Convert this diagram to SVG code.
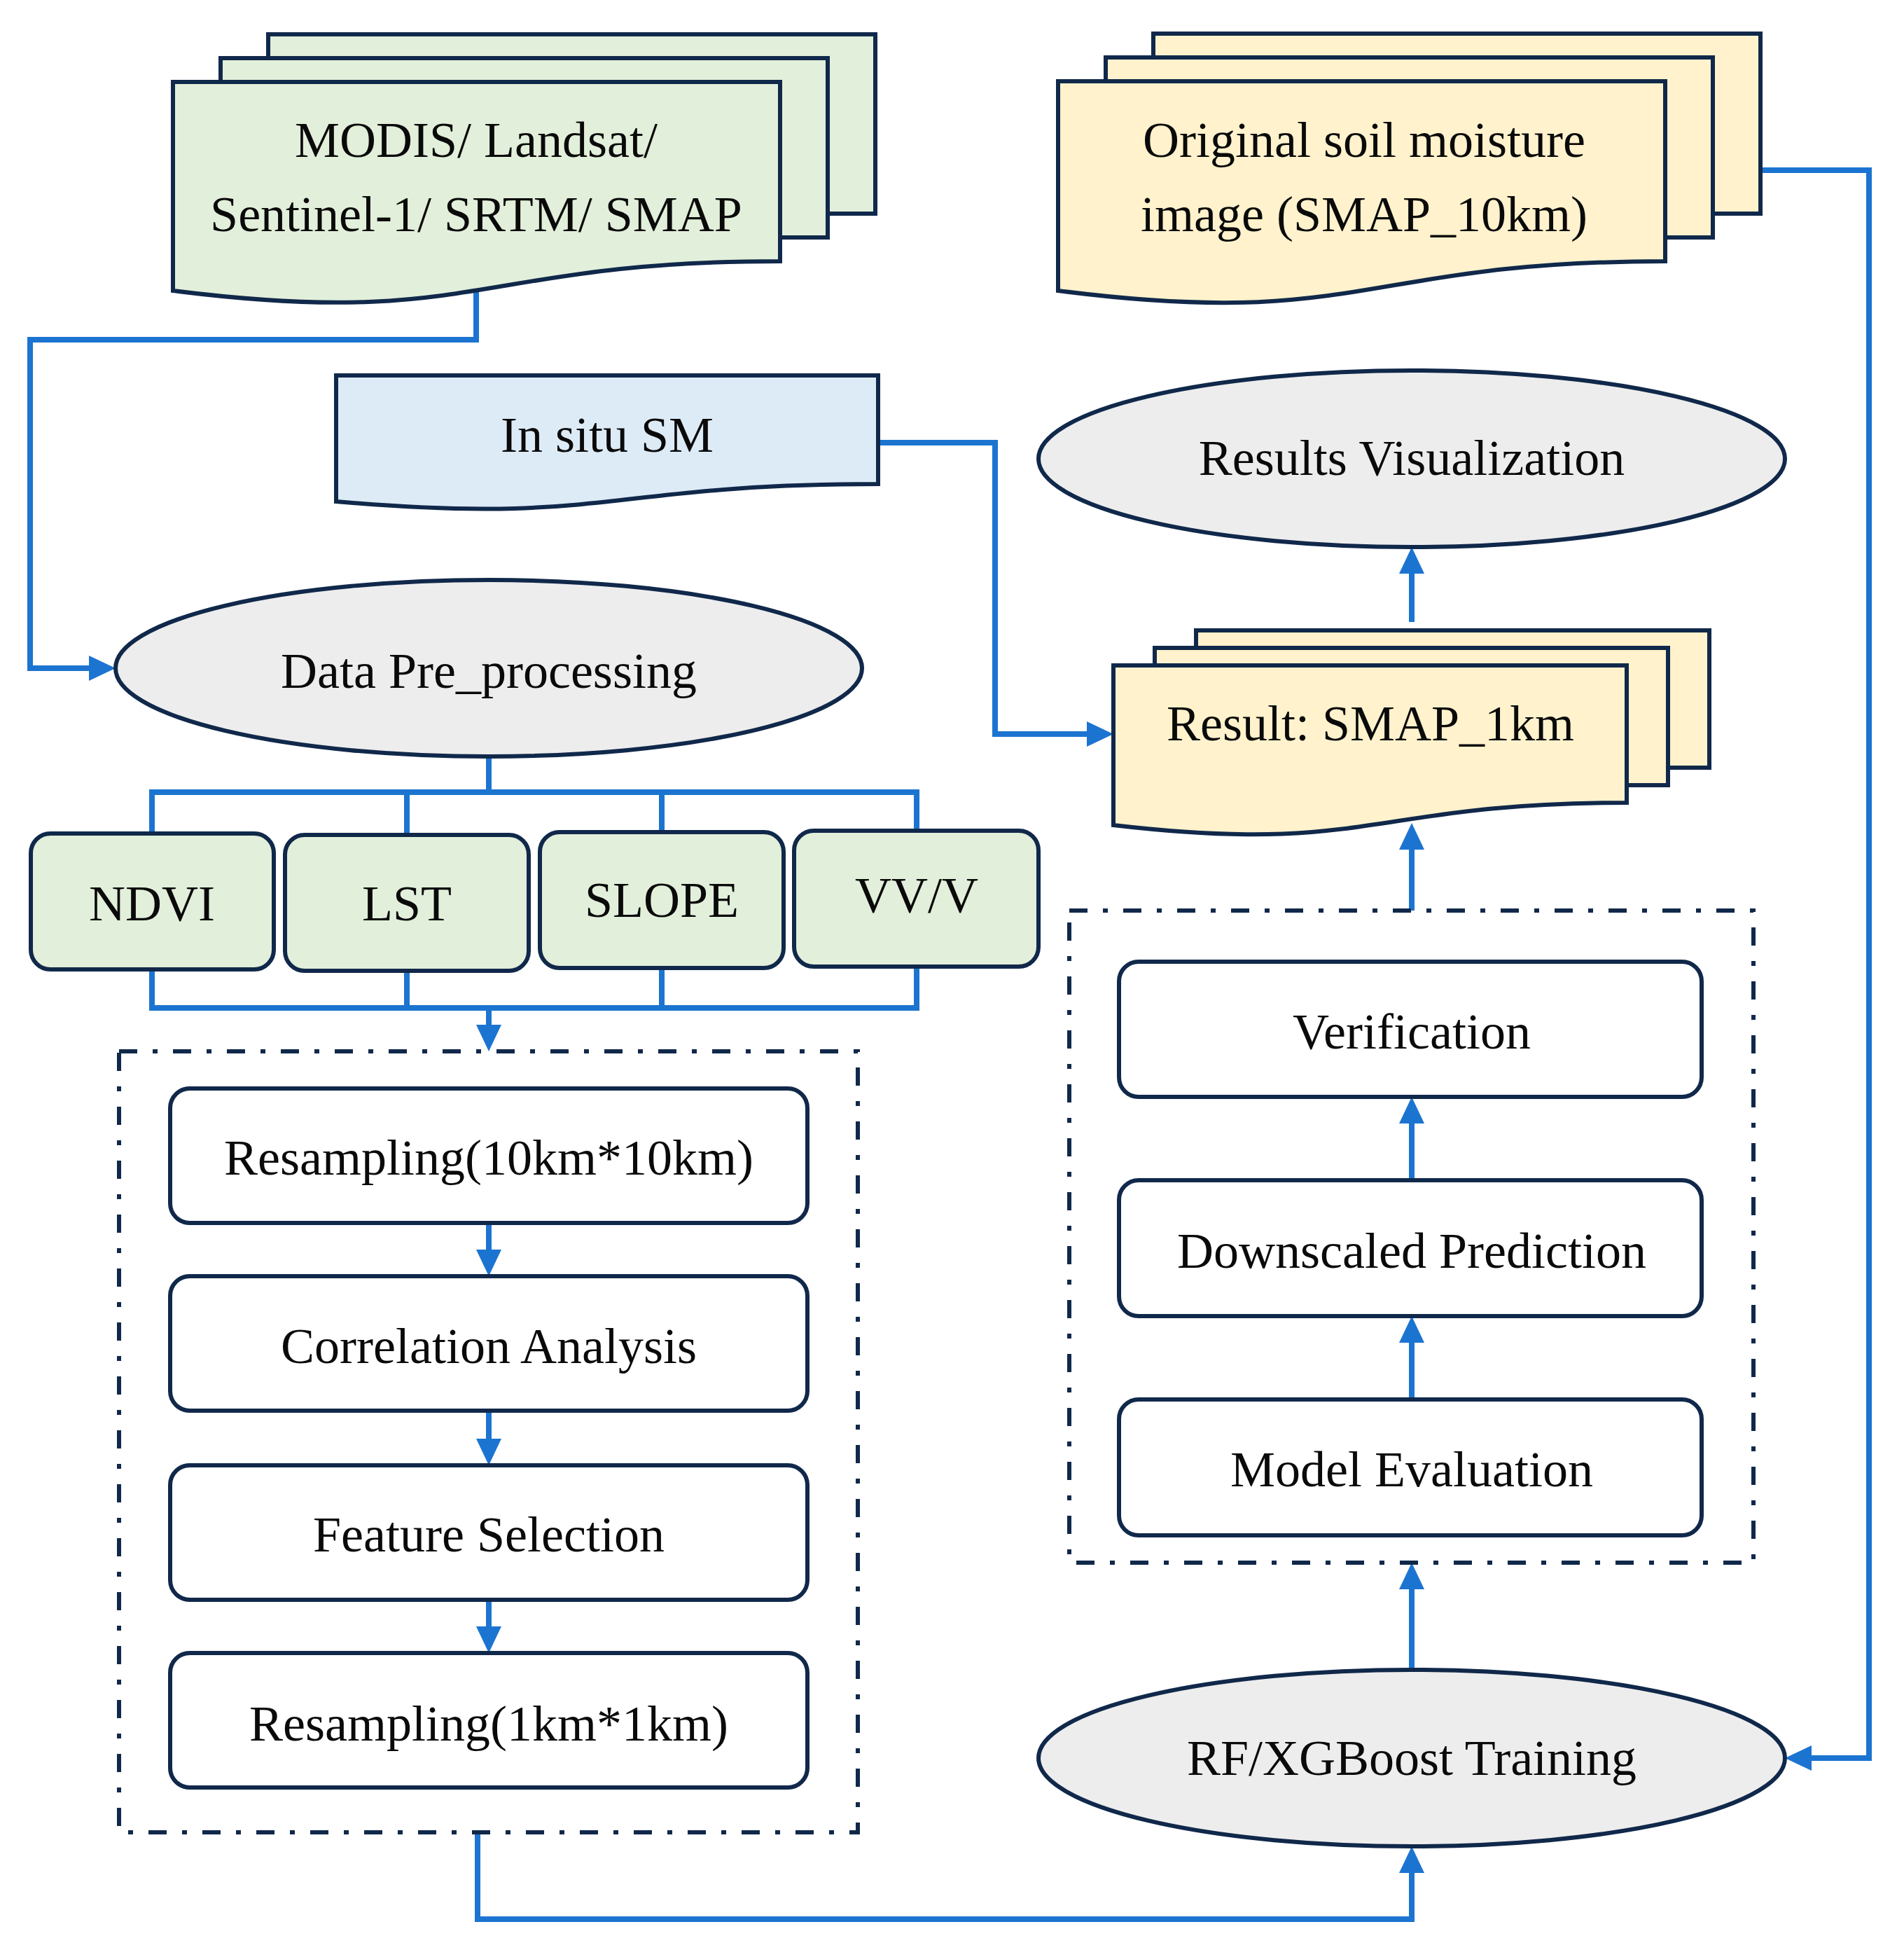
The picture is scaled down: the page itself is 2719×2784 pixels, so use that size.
<svg xmlns="http://www.w3.org/2000/svg" width="2719" height="2784" viewBox="0 0 2719 2784">
<style>
.sh{stroke:#10284A;stroke-width:6;stroke-linejoin:miter}
.g{fill:#E2EFDA}
.y{fill:#FFF2CC}
.b{fill:#DDEBF7}
.e{fill:#EDEDED}
.w{fill:#FFFFFF}
.dash{fill:none;stroke:#10284A;stroke-width:6;stroke-dasharray:26 22 7 22}
.t{font-family:"Liberation Serif","Times New Roman",serif;font-size:72px;fill:#0A0A0A;text-anchor:middle}
.c{fill:none;stroke:#1C74D1;stroke-width:8;stroke-linejoin:miter}
.ca{fill:none;stroke:#1C74D1;stroke-width:8;marker-end:url(#ah)}
</style>
<defs>
<marker id="ah" markerUnits="userSpaceOnUse" markerWidth="40" markerHeight="40" refX="8" refY="18" orient="auto">
<path d="M0,0 L38,18 L0,36 Z" fill="#1C74D1"/>
</marker>
</defs>
<rect width="2719" height="2784" fill="#FFFFFF"/>

<g id="connectors">
<path class="ca" d="M680,415 V485 H43 V954 H135"/>
<path class="ca" d="M1254,632 H1421 V1048 H1560"/>
<path class="c" d="M698,1080 V1131"/>
<path class="c" d="M217,1190 V1131 H1309 V1190"/>
<path class="c" d="M581,1131 V1190"/>
<path class="c" d="M945,1131 V1190"/>
<path class="c" d="M217,1384 V1439 H1309 V1380"/>
<path class="c" d="M581,1386 V1439"/>
<path class="c" d="M945,1382 V1439"/>
<path class="ca" d="M698,1439 V1471"/>
<path class="ca" d="M698,1746 V1792"/>
<path class="ca" d="M698,2014 V2062"/>
<path class="ca" d="M698,2284 V2330"/>
<path class="ca" d="M682,2616 V2740 H2016 V2666"/>
<path class="ca" d="M2016,2384 V2261"/>
<path class="ca" d="M2016,1998 V1909"/>
<path class="ca" d="M2016,1685 V1596"/>
<path class="ca" d="M2016,1300 V1205"/>
<path class="ca" d="M2016,888 V811"/>
<path class="ca" d="M2514,243 H2669 V2510 H2579"/>
</g>

<g id="modis">
<rect class="sh g" x="383" y="49" width="867" height="256"/>
<rect class="sh g" x="315" y="83" width="867" height="256"/>
<path class="sh g" d="M247,117 H1114 V373 C680.5,373 680.5,470 247,415 Z"/>
<text class="t" x="680" y="224">MODIS/ Landsat/</text>
<text class="t" x="680" y="330">Sentinel-1/ SRTM/ SMAP</text>
</g>

<g id="original">
<rect class="sh y" x="1647" y="48" width="867" height="257"/>
<rect class="sh y" x="1579" y="82" width="867" height="257"/>
<path class="sh y" d="M1511,116 H2378 V373 C1944.5,373 1944.5,471 1511,415 Z"/>
<text class="t" x="1948" y="224">Original soil moisture</text>
<text class="t" x="1948" y="330">image (SMAP_10km)</text>
</g>

<g id="insitu">
<path class="sh b" d="M480,536 H1254 V691 C867,691 867,750 480,716 Z"/>
<text class="t" x="867" y="645">In situ SM</text>
</g>

<g id="resultsvis">
<ellipse class="sh e" cx="2016" cy="655" rx="533" ry="126"/>
<text class="t" x="2016" y="678">Results Visualization</text>
</g>

<g id="datapre">
<ellipse class="sh e" cx="698" cy="954" rx="533" ry="126"/>
<text class="t" x="698" y="982">Data Pre_processing</text>
</g>

<g id="result1km">
<rect class="sh y" x="1708" y="900" width="733" height="196"/>
<rect class="sh y" x="1649" y="925" width="733" height="196"/>
<path class="sh y" d="M1590,950 H2323 V1146 C1956.5,1146 1956.5,1221 1590,1178 Z"/>
<text class="t" x="1957" y="1057">Result: SMAP_1km</text>
</g>

<g id="ndvi">
<rect class="sh g" x="44" y="1190" width="347" height="194" rx="28"/>
<text class="t" x="217" y="1314">NDVI</text>
</g>
<g id="lst">
<rect class="sh g" x="407" y="1192" width="348" height="194" rx="28"/>
<text class="t" x="581" y="1314">LST</text>
</g>
<g id="slope">
<rect class="sh g" x="771" y="1188" width="348" height="194" rx="28"/>
<text class="t" x="945" y="1309">SLOPE</text>
</g>
<g id="vvv">
<rect class="sh g" x="1134" y="1186" width="349" height="194" rx="28"/>
<text class="t" x="1309" y="1302">VV/V</text>
</g>

<g id="preprocess-group">
<rect class="dash" x="170" y="1501" width="1055" height="1115"/>
</g>
<g id="resampling10">
<rect class="sh w" x="243" y="1554" width="910" height="192" rx="28"/>
<text class="t" x="698" y="1677">Resampling(10km*10km)</text>
</g>
<g id="correlation">
<rect class="sh w" x="243" y="1822" width="910" height="192" rx="28"/>
<text class="t" x="698" y="1946">Correlation Analysis</text>
</g>
<g id="feature">
<rect class="sh w" x="243" y="2092" width="910" height="192" rx="28"/>
<text class="t" x="698" y="2215">Feature Selection</text>
</g>
<g id="resampling1">
<rect class="sh w" x="243" y="2360" width="910" height="192" rx="28"/>
<text class="t" x="698" y="2485">Resampling(1km*1km)</text>
</g>

<g id="model-group">
<rect class="dash" x="1527" y="1300" width="977" height="931"/>
</g>
<g id="verification">
<rect class="sh w" x="1598" y="1373" width="832" height="193" rx="28"/>
<text class="t" x="2016" y="1497">Verification</text>
</g>
<g id="downscaled">
<rect class="sh w" x="1598" y="1685" width="832" height="194" rx="28"/>
<text class="t" x="2016" y="1810">Downscaled Prediction</text>
</g>
<g id="modeleval">
<rect class="sh w" x="1598" y="1998" width="832" height="194" rx="28"/>
<text class="t" x="2016" y="2122">Model Evaluation</text>
</g>

<g id="rftraining">
<ellipse class="sh e" cx="2016" cy="2510" rx="533" ry="126"/>
<text class="t" x="2016" y="2534">RF/XGBoost Training</text>
</g>
</svg>
